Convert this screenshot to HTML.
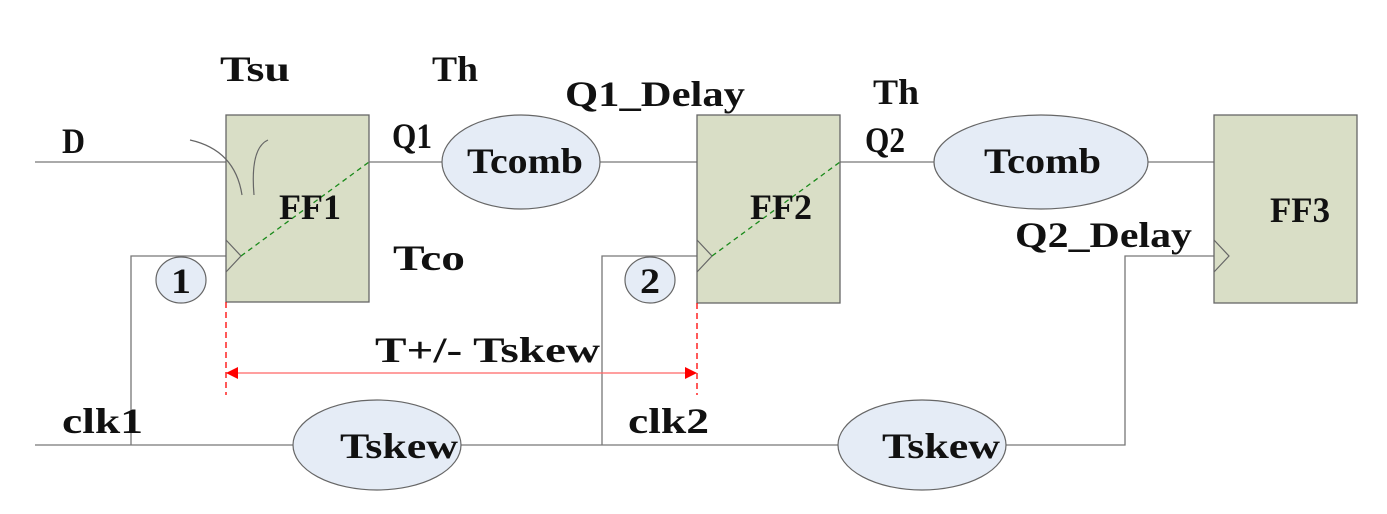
<!DOCTYPE html>
<html><head><meta charset="utf-8"><style>
body{margin:0;background:#fff;}
text{font-family:"Liberation Serif","DejaVu Serif",serif;font-weight:bold;font-size:36px;fill:#111;}
</style></head><body>
<svg width="1387" height="509" viewBox="0 0 1387 509" xmlns="http://www.w3.org/2000/svg">
<defs><marker id="ah" markerWidth="12" markerHeight="12" refX="11" refY="6" orient="auto" markerUnits="userSpaceOnUse"><path d="M0,0 L12,6 L0,12 z" fill="#f00"/></marker>
<marker id="ah2" markerWidth="12" markerHeight="12" refX="1" refY="6" orient="auto" markerUnits="userSpaceOnUse"><path d="M12,0 L0,6 L12,12 z" fill="#f00"/></marker></defs>
<g stroke="#777" stroke-width="1.3" fill="none">
<line x1="35" y1="162" x2="226" y2="162"/>
<line x1="369" y1="162" x2="442" y2="162"/>
<line x1="600" y1="162" x2="697" y2="162"/>
<line x1="840" y1="162" x2="934" y2="162"/>
<line x1="1148" y1="162" x2="1214" y2="162"/>
<polyline points="35,445 293,445"/>
<polyline points="131,445 131,256 226,256"/>
<polyline points="460,445 838,445"/>
<polyline points="602,445 602,256 697,256"/>
<polyline points="1005,445 1125,445 1125,256 1214,256"/>
</g>
<g fill="#d9dec6" stroke="#666" stroke-width="1.3">
<rect x="226" y="115" width="143" height="187"/>
<rect x="697" y="115" width="143" height="188"/>
<rect x="1214" y="115" width="143" height="188"/>
</g>
<g stroke="#666" stroke-width="1.2" fill="none">
<polyline points="226,240 241,256 226,272"/>
<polyline points="697,240 712,256 697,272"/>
<polyline points="1214,240 1229,256 1214,272"/>
<path d="M190,140 Q235,150 242,195"/>
<path d="M268,140 Q250,148 254,195"/>
</g>
<g stroke="#1a8a1a" stroke-width="1.3" stroke-dasharray="5,4">
<line x1="241" y1="256" x2="369" y2="162"/>
<line x1="712" y1="256" x2="840" y2="162"/>
</g>
<g fill="#e5ecf6" stroke="#666" stroke-width="1.2">
<ellipse cx="521" cy="162" rx="79" ry="47"/>
<ellipse cx="1041" cy="162" rx="107" ry="47"/>
<ellipse cx="377" cy="445" rx="84" ry="45"/>
<ellipse cx="922" cy="445" rx="84" ry="45"/>
<ellipse cx="181" cy="280" rx="25" ry="23"/>
<ellipse cx="650" cy="280" rx="25" ry="23"/>
</g>
<g stroke="#f00" stroke-width="1.3" stroke-dasharray="6,4">
<line x1="226" y1="302" x2="226" y2="395"/>
<line x1="697" y1="303" x2="697" y2="395"/>
</g>
<line x1="227" y1="373" x2="696" y2="373" stroke="#f66" stroke-width="1.3" marker-end="url(#ah)" marker-start="url(#ah2)"/>
<g>
<text x="220" y="81" textLength="70" lengthAdjust="spacingAndGlyphs">Tsu</text>
<text x="432" y="81" textLength="46" lengthAdjust="spacingAndGlyphs">Th</text>
<text x="565" y="106" textLength="180" lengthAdjust="spacingAndGlyphs">Q1_Delay</text>
<text x="873" y="104" textLength="46" lengthAdjust="spacingAndGlyphs">Th</text>
<text x="62" y="153" textLength="23" lengthAdjust="spacingAndGlyphs">D</text>
<text x="392" y="148" textLength="40" lengthAdjust="spacingAndGlyphs">Q1</text>
<text x="467" y="173" textLength="116" lengthAdjust="spacingAndGlyphs">Tcomb</text>
<text x="279" y="219" textLength="62" lengthAdjust="spacingAndGlyphs">FF1</text>
<text x="393" y="270" textLength="72" lengthAdjust="spacingAndGlyphs">Tco</text>
<text x="171" y="293" textLength="20" lengthAdjust="spacingAndGlyphs">1</text>
<text x="640" y="293" textLength="20" lengthAdjust="spacingAndGlyphs">2</text>
<text x="865" y="152" textLength="40" lengthAdjust="spacingAndGlyphs">Q2</text>
<text x="984" y="173" textLength="117" lengthAdjust="spacingAndGlyphs">Tcomb</text>
<text x="750" y="219" textLength="62" lengthAdjust="spacingAndGlyphs">FF2</text>
<text x="1270" y="222" textLength="60" lengthAdjust="spacingAndGlyphs">FF3</text>
<text x="1015" y="247" textLength="177" lengthAdjust="spacingAndGlyphs">Q2_Delay</text>
<text x="375" y="362" textLength="225" lengthAdjust="spacingAndGlyphs">T+/- Tskew</text>
<text x="62" y="433" textLength="81" lengthAdjust="spacingAndGlyphs">clk1</text>
<text x="628" y="433" textLength="81" lengthAdjust="spacingAndGlyphs">clk2</text>
<text x="340" y="458" textLength="118" lengthAdjust="spacingAndGlyphs">Tskew</text>
<text x="882" y="458" textLength="118" lengthAdjust="spacingAndGlyphs">Tskew</text>
</g>
</svg>
</body></html>
